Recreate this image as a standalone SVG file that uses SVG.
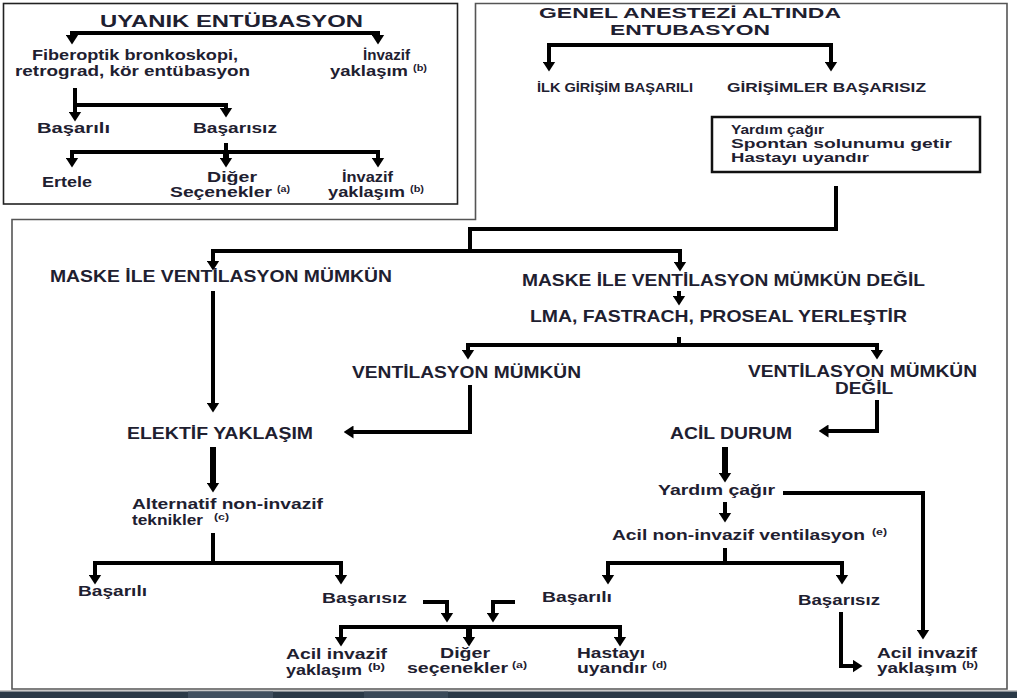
<svg xmlns="http://www.w3.org/2000/svg" width="1017" height="698" viewBox="0 0 1017 698">
<style>
.t{font-family:"Liberation Sans",Arial,sans-serif;font-weight:bold;fill:#1e2030}
.h{font-size:16.5px}
.m{font-size:15px}
.s{font-size:15px}
.sm{font-size:13px}
.xs{font-size:12px}
.sup{font-size:9px}
.c{fill:none;stroke:#000;stroke-width:4;marker-end:url(#ah)}
.l{fill:none;stroke:#000;stroke-width:4}
.w{stroke-width:6}
.box{fill:none;stroke:#222;stroke-width:1.6}
.frame{fill:none;stroke:#555;stroke-width:1.6}
</style>
<defs>
<marker id="ah" viewBox="0 0 10 13" markerWidth="10" markerHeight="13" refX="0.5" refY="6.5" orient="auto" markerUnits="userSpaceOnUse">
<path d="M0,0 L10,6.5 L0,13 Z" fill="#000"/>
</marker>
</defs>
<rect width="1017" height="698" fill="#fff"/>
<g id="frames">
<rect class="box" x="3.5" y="3.5" width="454" height="200.5"/>
<path class="frame" d="M475.5,3.5 H1007 V689 H12 V219.5 H475.5 Z"/>
<rect x="712" y="117" width="268" height="55" fill="none" stroke="#111" stroke-width="2.5"/>
</g>
<g id="band">
<rect x="0" y="690" width="1017" height="1.5" fill="#c8c8c8"/>
<rect x="0" y="691.5" width="1017" height="6.5" fill="#2a3947"/>
<rect x="188" y="691.5" width="85" height="6.5" fill="#415060"/>
<rect x="364" y="691.5" width="84" height="6.5" fill="#3a4958"/>
</g>
<g id="connectors">
<path class="c" d="M225,33 H72 V35"/>
<path class="c" d="M225,33 H378 V35"/>
<path class="c" d="M75,88 V112"/>
<path class="c" d="M75,105 H226 V108"/>
<path class="l" d="M226,143 V152"/>
<path class="c" d="M226,152 H72 V158"/>
<path class="c" d="M226,152 H378 V158"/>
<path class="c w" d="M226,150 V158"/>
<path class="c" d="M690,45 H549 V62"/>
<path class="c" d="M690,45 H831 V62"/>
<path class="l" d="M836,186 V229 H470 V251"/>
<path class="c" d="M470,251 H213 V261"/>
<path class="c" d="M470,251 H680 V262"/>
<path class="c" d="M679,291 V296"/>
<path class="l" d="M679,337 V345"/>
<path class="c" d="M679,345 H468 V350"/>
<path class="c" d="M679,345 H877 V350"/>
<path class="c" d="M470,385 V432 H353"/>
<path class="c" d="M877,400 V431 H828"/>
<path class="c" d="M213,291 V403"/>
<path class="c w" d="M213,447 V483"/>
<path class="l" d="M213,533 V563"/>
<path class="c" d="M213,563 H95 V575"/>
<path class="c" d="M213,563 H341 V575"/>
<path class="c" d="M423,602 H447 V613"/>
<path class="c" d="M515,602 H493 V613"/>
<path class="c" d="M469,627 H341 V637"/>
<path class="c" d="M469,627 H620 V637"/>
<path class="c w" d="M469,627 V637"/>
<path class="c w" d="M725,447 V473"/>
<path class="c" d="M783,493 H923 V630"/>
<path class="c" d="M725,502 V513"/>
<path class="l" d="M725,548 V563"/>
<path class="c" d="M725,563 H608 V575"/>
<path class="c" d="M725,563 H842 V575"/>
<path class="c" d="M841,612 V666 H853"/>
</g>
<g id="n-uyanik"><text class="t h" x="100" y="27" textLength="263" lengthAdjust="spacingAndGlyphs">UYANIK ENTÜBASYON</text></g>
<g id="n-fiber">
<text class="t s" x="32" y="60" textLength="206" lengthAdjust="spacingAndGlyphs">Fiberoptik bronkoskopi,</text>
<text class="t s" x="15" y="76" textLength="235" lengthAdjust="spacingAndGlyphs">retrograd, kör entübasyon</text>
</g>
<g id="n-invazif1">
<text class="t s" x="363" y="60" textLength="47" lengthAdjust="spacingAndGlyphs">İnvazif</text>
<text class="t s" x="330" y="76" textLength="78" lengthAdjust="spacingAndGlyphs">yaklaşım</text>
<text class="t sup" x="413" y="71" textLength="14" lengthAdjust="spacingAndGlyphs">(b)</text>
</g>
<g id="n-basarili1"><text class="t s" x="37" y="133" textLength="73" lengthAdjust="spacingAndGlyphs">Başarılı</text></g>
<g id="n-basarisiz1"><text class="t s" x="193" y="133" textLength="84" lengthAdjust="spacingAndGlyphs">Başarısız</text></g>
<g id="n-ertele"><text class="t s" x="42" y="187" textLength="50" lengthAdjust="spacingAndGlyphs">Ertele</text></g>
<g id="n-diger1">
<text class="t s" x="207" y="182" textLength="50" lengthAdjust="spacingAndGlyphs">Diğer</text>
<text class="t s" x="170" y="197" textLength="102" lengthAdjust="spacingAndGlyphs">Seçenekler</text>
<text class="t sup" x="277" y="192" textLength="13" lengthAdjust="spacingAndGlyphs">(a)</text>
</g>
<g id="n-invazif2">
<text class="t s" x="342" y="182" textLength="51" lengthAdjust="spacingAndGlyphs">İnvazif</text>
<text class="t s" x="328" y="197" textLength="77" lengthAdjust="spacingAndGlyphs">yaklaşım</text>
<text class="t sup" x="410" y="192" textLength="14" lengthAdjust="spacingAndGlyphs">(b)</text>
</g>
<g id="n-genel">
<text class="t m" x="539" y="18" textLength="302" lengthAdjust="spacingAndGlyphs">GENEL ANESTEZİ ALTINDA</text>
<text class="t m" x="610" y="35" textLength="160" lengthAdjust="spacingAndGlyphs">ENTUBASYON</text>
</g>
<g id="n-ilk"><text class="t xs" x="537" y="92" textLength="156" lengthAdjust="spacingAndGlyphs">İLK GİRİŞİM BAŞARILI</text></g>
<g id="n-girisimler"><text class="t xs" x="727" y="92" textLength="199" lengthAdjust="spacingAndGlyphs">GİRİŞİMLER BAŞARISIZ</text></g>
<g id="n-yardimbox">
<text class="t sm" x="731" y="134" textLength="93" lengthAdjust="spacingAndGlyphs">Yardım çağır</text>
<text class="t sm" x="731" y="148" textLength="221" lengthAdjust="spacingAndGlyphs">Spontan solunumu getir</text>
<text class="t sm" x="731" y="162" textLength="138" lengthAdjust="spacingAndGlyphs">Hastayı uyandır</text>
</g>
<g id="n-maske1"><text class="t h" x="50" y="282" textLength="342" lengthAdjust="spacingAndGlyphs">MASKE İLE VENTİLASYON MÜMKÜN</text></g>
<g id="n-maske2"><text class="t h" x="522" y="286" textLength="403" lengthAdjust="spacingAndGlyphs">MASKE İLE VENTİLASYON MÜMKÜN DEĞİL</text></g>
<g id="n-lma"><text class="t h" x="530" y="322" textLength="377" lengthAdjust="spacingAndGlyphs">LMA, FASTRACH, PROSEAL YERLEŞTİR</text></g>
<g id="n-vent1"><text class="t h" x="352" y="378" textLength="229" lengthAdjust="spacingAndGlyphs">VENTİLASYON MÜMKÜN</text></g>
<g id="n-vent2">
<text class="t h" x="748" y="377" textLength="229" lengthAdjust="spacingAndGlyphs">VENTİLASYON MÜMKÜN</text>
<text class="t h" x="835" y="394" textLength="58" lengthAdjust="spacingAndGlyphs">DEĞİL</text>
</g>
<g id="n-elektif"><text class="t h" x="127" y="439" textLength="186" lengthAdjust="spacingAndGlyphs">ELEKTİF YAKLAŞIM</text></g>
<g id="n-acildurum"><text class="t h" x="670" y="439" textLength="122" lengthAdjust="spacingAndGlyphs">ACİL DURUM</text></g>
<g id="n-alternatif">
<text class="t s" x="132" y="509" textLength="191" lengthAdjust="spacingAndGlyphs">Alternatif non-invazif</text>
<text class="t s" x="132" y="525" textLength="71" lengthAdjust="spacingAndGlyphs">teknikler</text>
<text class="t sup" x="214" y="520" textLength="15" lengthAdjust="spacingAndGlyphs">(c)</text>
</g>
<g id="n-basarili2"><text class="t s" x="78" y="596" textLength="69" lengthAdjust="spacingAndGlyphs">Başarılı</text></g>
<g id="n-basarisiz2"><text class="t s" x="322" y="603" textLength="85" lengthAdjust="spacingAndGlyphs">Başarısız</text></g>
<g id="n-acilinv1">
<text class="t s" x="286" y="659" textLength="101" lengthAdjust="spacingAndGlyphs">Acil invazif</text>
<text class="t s" x="286" y="675" textLength="76" lengthAdjust="spacingAndGlyphs">yaklaşım</text>
<text class="t sup" x="368" y="670" textLength="17" lengthAdjust="spacingAndGlyphs">(b)</text>
</g>
<g id="n-diger2">
<text class="t s" x="440" y="658" textLength="50" lengthAdjust="spacingAndGlyphs">Diğer</text>
<text class="t s" x="407" y="673" textLength="101" lengthAdjust="spacingAndGlyphs">seçenekler</text>
<text class="t sup" x="512" y="668" textLength="15" lengthAdjust="spacingAndGlyphs">(a)</text>
</g>
<g id="n-hastayi">
<text class="t s" x="577" y="658" textLength="68" lengthAdjust="spacingAndGlyphs">Hastayı</text>
<text class="t s" x="577" y="673" textLength="70" lengthAdjust="spacingAndGlyphs">uyandır</text>
<text class="t sup" x="652" y="668" textLength="15" lengthAdjust="spacingAndGlyphs">(d)</text>
</g>
<g id="n-yardim2"><text class="t s" x="658" y="495" textLength="117" lengthAdjust="spacingAndGlyphs">Yardım çağır</text></g>
<g id="n-acilnon">
<text class="t s" x="612" y="540" textLength="253" lengthAdjust="spacingAndGlyphs">Acil non-invazif ventilasyon</text>
<text class="t sup" x="872" y="535" textLength="15" lengthAdjust="spacingAndGlyphs">(e)</text>
</g>
<g id="n-basarili3"><text class="t s" x="542" y="602" textLength="70" lengthAdjust="spacingAndGlyphs">Başarılı</text></g>
<g id="n-basarisiz3"><text class="t s" x="798" y="605" textLength="82" lengthAdjust="spacingAndGlyphs">Başarısız</text></g>
<g id="n-acilinv2">
<text class="t s" x="877" y="658" textLength="100" lengthAdjust="spacingAndGlyphs">Acil invazif</text>
<text class="t s" x="877" y="673" textLength="80" lengthAdjust="spacingAndGlyphs">yaklaşım</text>
<text class="t sup" x="962" y="668" textLength="16" lengthAdjust="spacingAndGlyphs">(b)</text>
</g>
</svg>
